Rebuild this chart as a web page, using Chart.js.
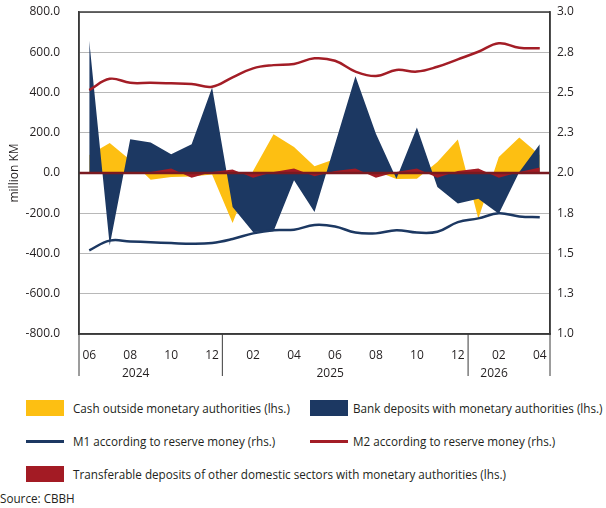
<!DOCTYPE html>
<html>
<head>
<meta charset="utf-8">
<script src="https://cdn.jsdelivr.net/npm/chart.js@4.4.1/dist/chart.umd.min.js"></script>
<style>
  body { margin: 0; background: #fff; font-family: "Open Sans", sans-serif; color: #231f20; }
  #wrap { position: relative; width: 606px; height: 508px; }
  .sw { position: absolute; width: 38px; height: 16px; }
  .ln { position: absolute; width: 38px; height: 3px; }
  .tx { position: absolute; font-size: 11.7px; line-height: 16px; white-space: nowrap; }
</style>
</head>
<body>
<div id="wrap">
  <canvas id="grafico" width="606" height="390"></canvas>

  <div class="sw" style="left:26px;top:400px;background:#fdbf12"></div>
  <div class="tx" style="left:73px;top:400px">Cash outside monetary authorities (lhs.)</div>
  <div class="sw" style="left:310px;top:400px;background:#1c3862"></div>
  <div class="tx" style="left:353px;top:400px">Bank deposits with monetary authorities (lhs.)</div>

  <div class="ln" style="left:26px;top:440px;background:#1c3862"></div>
  <div class="tx" style="left:73px;top:433px">M1 according to reserve money (rhs.)</div>
  <div class="ln" style="left:310px;top:440px;background:#a31d26"></div>
  <div class="tx" style="left:353px;top:433px">M2 according to reserve money (rhs.)</div>

  <div class="sw" style="left:26px;top:466px;background:#a31b24"></div>
  <div class="tx" style="left:73px;top:466px">Transferable deposits of other domestic sectors with monetary authorities (lhs.)</div>

  <div class="tx" style="left:0px;top:490px">Source: CBBH</div>
</div>

<script>
// Datos
const meses = ["06","07","08","09","10","11","12","01","02","03","04","05","06","07","08","09","10","11","12","01","02","03","04"];
const anios = ["2024","2024","2024","2024","2024","2024","2024",
               "2025","2025","2025","2025","2025","2025","2025","2025","2025","2025","2025","2025",
               "2026","2026","2026","2026"];

const efectivo = [90, 149, 65, -33, -20, -17, -8, -249, 10, 193, 129, 33, 70, 30, 10, -30, -28, 55, 166, -227, 80, 176, 90];
const depositosBancos = [657, -360, 168, 151, 93, 143, 425, -169, -293, -290, -36, -194, 143, 481, 195, -28, 226, -70, -152, -128, -202, 5, 143];
const transferibles = [0, 5, -3, 5, 22, -23, 5, 17, -23, 5, 22, -16, 10, 22, -23, 5, 22, -23, 10, 22, -23, 5, 27];
const m1 = [1.52, 1.58, 1.575, 1.57, 1.565, 1.56, 1.565, 1.59, 1.625, 1.645, 1.648, 1.677, 1.668, 1.63, 1.625, 1.645, 1.63, 1.635, 1.695, 1.718, 1.75, 1.73, 1.725];
const m2 = [2.515, 2.585, 2.56, 2.56, 2.557, 2.553, 2.536, 2.594, 2.65, 2.67, 2.677, 2.712, 2.697, 2.63, 2.602, 2.64, 2.63, 2.66, 2.706, 2.753, 2.806, 2.778, 2.775];

const fuente = { family: "'Open Sans', sans-serif", size: 12 };
const colorTexto = "#231f20";
const colorEje = "#3a3a3a";

// Marco, linea cero y etiquetas de anios
const extras = {
    id: "extras",
    afterDatasetsDraw(chart) {
        const ctx = chart.ctx;
        const area = chart.chartArea;
        const y0 = chart.scales.y.getPixelForValue(0);
        ctx.save();
        ctx.strokeStyle = "#7a1a20";
        ctx.lineWidth = 2.5;
        ctx.beginPath();
        ctx.moveTo(area.left, y0);
        ctx.lineTo(area.right, y0);
        ctx.stroke();
        ctx.restore();
    },
    afterDraw(chart) {
        const ctx = chart.ctx;
        const area = chart.chartArea;
        const x = chart.scales.x;
        const abajo = area.bottom + 42;

        ctx.save();
        ctx.strokeStyle = colorEje;
        ctx.lineWidth = 1.5;
        ctx.strokeRect(area.left, area.top, area.right - area.left, area.bottom - area.top);

        // separadores de anios
        const cortes = [area.left];
        for (let i = 1; i < anios.length; i++) {
            if (anios[i] !== anios[i - 1]) {
                cortes.push((x.getPixelForValue(i - 1) + x.getPixelForValue(i)) / 2);
            }
        }
        cortes.push(area.right);
        ctx.lineWidth = 1;
        cortes.forEach(c => {
            ctx.beginPath();
            ctx.moveTo(c, area.bottom);
            ctx.lineTo(c, abajo);
            ctx.stroke();
        });

        // etiquetas de anios
        ctx.fillStyle = colorTexto;
        ctx.font = "12px 'Open Sans', sans-serif";
        ctx.textAlign = "center";
        ctx.textBaseline = "middle";
        let inicio = 0;
        for (let i = 1; i <= anios.length; i++) {
            if (i === anios.length || anios[i] !== anios[inicio]) {
                const centro = (x.getPixelForValue(inicio) + x.getPixelForValue(i - 1)) / 2 - 15;
                ctx.fillText(anios[inicio], centro, area.bottom + 40);
                inicio = i;
            }
        }
        ctx.restore();
    }
};

function fijarAncho(ancho) {
    return s => {
        s.width = ancho;
        s.paddingTop = 0;
        s.paddingBottom = 0;
    };
}

const ctx = document.getElementById("grafico").getContext("2d");

new Chart(ctx, {
    type: "line",
    data: {
        labels: meses,
        datasets: [
            { label: "M1 according to reserve money (rhs.)", data: m1, yAxisID: "y1",
              borderColor: "#1c3862", borderWidth: 2.5, pointRadius: 0, tension: 0.4, fill: false, order: 0 },
            { label: "M2 according to reserve money (rhs.)", data: m2, yAxisID: "y1",
              borderColor: "#a31d26", borderWidth: 2.5, pointRadius: 0, tension: 0.4, fill: false, order: 1 },
            { label: "Transferable deposits of other domestic sectors with monetary authorities (lhs.)", data: transferibles, yAxisID: "y",
              backgroundColor: "#a31b24", borderWidth: 0, pointRadius: 0, fill: "origin", order: 2 },
            { label: "Bank deposits with monetary authorities (lhs.)", data: depositosBancos, yAxisID: "y",
              backgroundColor: "#1c3862", borderWidth: 0, pointRadius: 0, fill: "origin", order: 3 },
            { label: "Cash outside monetary authorities (lhs.)", data: efectivo, yAxisID: "y",
              backgroundColor: "#fdbf12", borderWidth: 0, pointRadius: 0, fill: "origin", order: 4 }
        ]
    },
    options: {
        responsive: false,
        animation: false,
        devicePixelRatio: 1,
        layout: { padding: { top: 12, left: 0, right: 0, bottom: 0 } },
        plugins: {
            legend: { display: false },
            tooltip: { enabled: false }
        },
        scales: {
            x: {
                offset: true,
                grid: { display: false },
                border: { display: true, color: colorEje, width: 1.5 },
                ticks: {
                    autoSkip: false,
                    maxRotation: 0,
                    padding: 6,
                    color: colorTexto,
                    font: fuente,
                    callback: (v, i) => i % 2 === 0 ? meses[i] : ""
                },
                afterFit: s => {
                    s.height = 56;
                    s.paddingLeft = 0;
                    s.paddingRight = 0;
                }
            },
            y: {
                position: "left",
                min: -800,
                max: 800,
                ticks: {
                    stepSize: 200,
                    padding: 19,
                    color: colorTexto,
                    font: fuente,
                    callback: v => Number(v).toFixed(1)
                },
                grid: { color: "#b8b8b8", lineWidth: 1, drawTicks: false },
                border: { display: true, color: colorEje, width: 1.5 },
                title: { display: true, text: "million KM", color: colorTexto, font: fuente, padding: { top: 7, bottom: 0 } },
                afterFit: fijarAncho(79)
            },
            y1: {
                position: "right",
                min: 1,
                max: 3,
                ticks: {
                    stepSize: 0.25,
                    padding: 7,
                    color: colorTexto,
                    font: fuente,
                    callback: v => Number(v).toFixed(1)
                },
                grid: { drawOnChartArea: false, drawTicks: false },
                border: { display: true, color: colorEje, width: 1.5 },
                afterFit: fijarAncho(56)
            }
        }
    },
    plugins: [extras]
});
</script>
</body>
</html>
